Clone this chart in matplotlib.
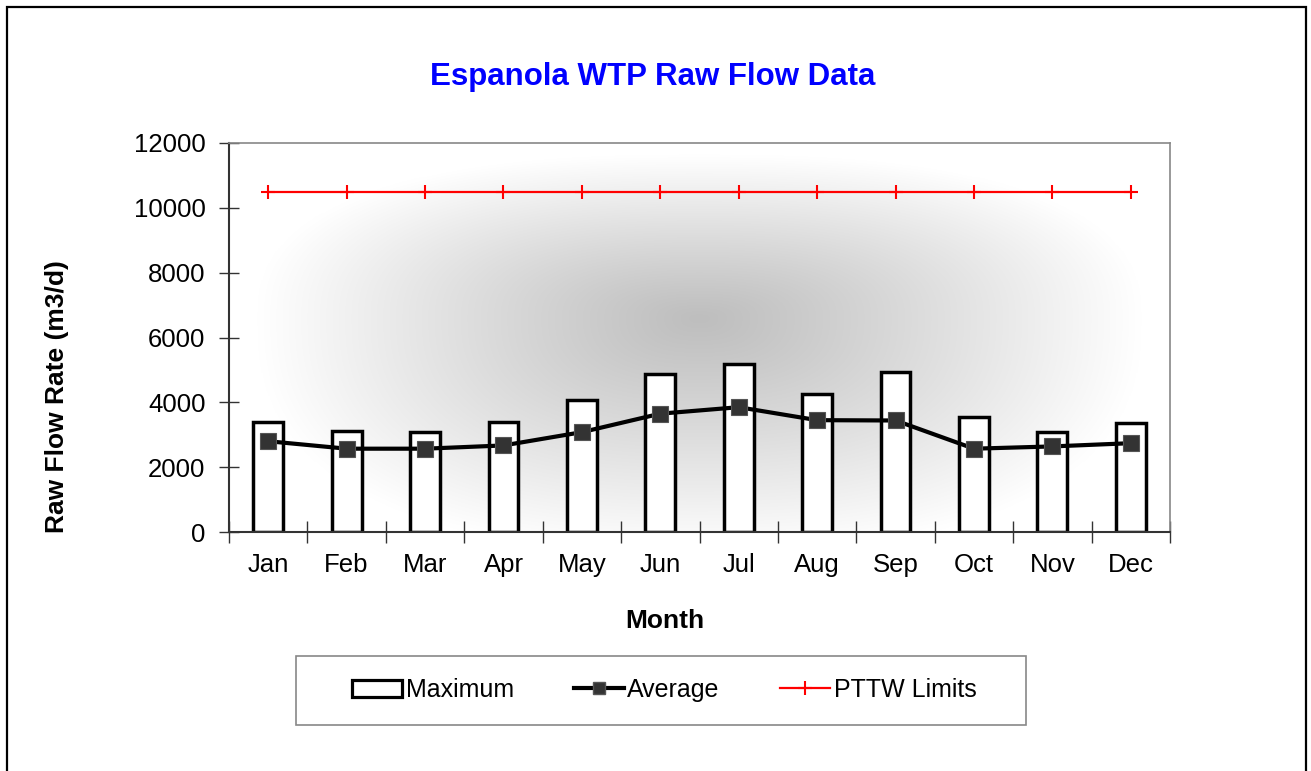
import numpy as np
import matplotlib
matplotlib.use("Agg")
import matplotlib.pyplot as plt
from matplotlib.lines import Line2D
from matplotlib.patches import Rectangle

months = ["Jan", "Feb", "Mar", "Apr", "May", "Jun", "Jul", "Aug", "Sep", "Oct", "Nov", "Dec"]
maximum = [3390, 3130, 3090, 3380, 4070, 4870, 5170, 4270, 4950, 3540, 3100, 3370]
average = [2800, 2570, 2570, 2670, 3080, 3650, 3850, 3450, 3440, 2570, 2640, 2740]
pttw = [10500] * 12
yticks = [0, 2000, 4000, 6000, 8000, 10000, 12000]

plt.rcParams['font.family'] = ['Liberation Sans', 'DejaVu Sans']

W, H = 1311, 771
fig = plt.figure(figsize=(W / 100, H / 100), dpi=100)
fig.patch.set_facecolor('white')

# outer figure border
fig.patches.append(Rectangle((7 / W, -0.02), (1306 - 7) / W, (H - 7) / H + 0.02,
                             transform=fig.transFigure, fill=False,
                             edgecolor='black', linewidth=1.6, zorder=0))

ax = fig.add_axes([229 / W, (H - 532) / H, (1170 - 229) / W, (532 - 143) / H])

# background gradient
ny, nx = 400, 800
yy, xx = np.mgrid[0:1:ny * 1j, 0:1:nx * 1j]
cx, cy = 0.5, 0.55
dx = np.abs(xx - cx) / 0.47
dy = np.where(yy > cy, (yy - cy) / 0.42, (cy - yy) / 0.6)
p = 2.5
d = (dx ** p + dy ** p) ** (1 / p)
d = np.clip(d, 0, 1)
v = 0.745 + (1 - 0.745) * d ** 1.1
img = np.dstack([v, v, v])
ax.imshow(img, extent=[0, 1, 0, 1], transform=ax.transAxes, origin='lower',
          aspect='auto', zorder=0, interpolation='bilinear')

x = np.arange(len(months))
ax.bar(x, maximum, width=0.38, color='white', edgecolor='black', linewidth=2.5, zorder=2)
ax.plot(x, average, color='black', linewidth=3.0, marker='s', markersize=11.5,
        markerfacecolor='#333333', markeredgecolor='#555555', markeredgewidth=0.8, zorder=3)
ax.plot(x, pttw, color='red', linewidth=1.6, marker='+', markersize=10,
        markeredgewidth=1.5, zorder=3)

ax.set_xlim(-0.5, 11.5)
ax.set_ylim(0, 12000)
ax.set_yticks(yticks)
ax.set_yticklabels([str(t) for t in yticks], fontsize=18.5)
ax.set_xticks(x)
ax.set_xticklabels(months, fontsize=18.5)
ax.tick_params(axis='x', which='major', length=0, pad=15)
ax.set_xticks(np.arange(-0.5, 12, 1), minor=True)
ax.tick_params(axis='x', which='minor', direction='inout', length=16, width=1, color='#333333')
ax.tick_params(axis='y', direction='inout', length=14, width=1, color='#333333', pad=10)

for s in ['left', 'bottom']:
    ax.spines[s].set_color('#333333')
    ax.spines[s].set_linewidth(1.5)
for s in ['top', 'right']:
    ax.spines[s].set_color('#888888')
    ax.spines[s].set_linewidth(1.2)

fig.text(665 / W, 1 - 621 / H, 'Month', fontsize=19, fontweight='bold',
         ha='center', va='center')
fig.text(57 / W, 1 - 397 / H, 'Raw Flow Rate (m3/d)', fontsize=19, fontweight='bold',
         ha='center', va='center', rotation=90)

fig.text(653 / W, 1 - 77 / H, 'Espanola WTP Raw Flow Data', color='#0000FF',
         fontsize=22.5, fontweight='bold', ha='center', va='center')

# legend frame
fig.patches.append(Rectangle((296 / W, 1 - 725 / H), (1026 - 296) / W, (725 - 656) / H,
                             transform=fig.transFigure, facecolor='white',
                             edgecolor='#888888', linewidth=1.2, zorder=1))

handles = [
    Rectangle((0, 0), 1, 1, facecolor='white', edgecolor='black', linewidth=2.3),
    Line2D([], [], color='black', linewidth=3.0, marker='s', markersize=9,
           markerfacecolor='#333333', markeredgecolor='#555555'),
    Line2D([], [], color='red', linewidth=1.6, marker='+', markersize=10, markeredgewidth=1.5),
]
leg = fig.legend(handles, ['Maximum', 'Average', 'PTTW Limits'], ncol=3,
                 loc='center', bbox_to_anchor=(664 / W, 1 - 690 / H),
                 fontsize=18, frameon=False,
                 handlelength=2.0, handletextpad=0.15, columnspacing=2.4,
                 borderpad=0.9)
leg.set_zorder(2)

fig.savefig('out.png', dpi=100)
